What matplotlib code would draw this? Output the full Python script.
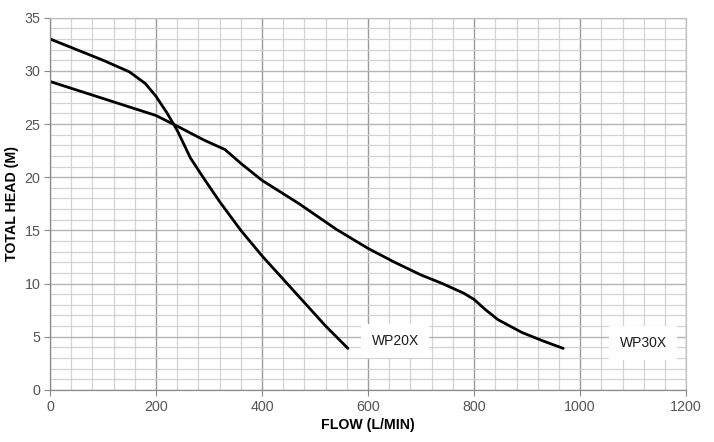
import matplotlib
matplotlib.use("Agg")
import matplotlib.pyplot as plt
from matplotlib.ticker import MultipleLocator

wp20x_flow = [0, 50, 100, 150, 180, 200, 220, 240, 265, 290, 320, 360, 400, 440, 480, 520, 562]
wp20x_head = [33.0, 32.0, 31.0, 29.9, 28.8, 27.6, 26.1, 24.4, 21.8, 19.9, 17.7, 15.0, 12.6, 10.4, 8.2, 6.0, 3.9]

wp30x_flow = [0, 100, 200, 240, 290, 330, 360, 400, 470, 540, 600, 650, 700, 740, 780, 800, 820, 845, 890, 930, 968]
wp30x_head = [29.0, 27.4, 25.8, 24.8, 23.5, 22.6, 21.3, 19.7, 17.5, 15.1, 13.3, 12.0, 10.8, 10.0, 9.1, 8.5, 7.6, 6.6, 5.4, 4.6, 3.9]

labels = ["WP20X", "WP30X"]
label_pos = [(651, 4.6), (1119, 4.4)]

plt.rcParams['font.family'] = ['Liberation Sans', 'DejaVu Sans']
fig = plt.figure(figsize=(7.14, 4.42), dpi=100)
ax = fig.add_axes([0.070, 0.118, 0.891, 0.842])

ax.set_xlim(0, 1200)
ax.set_ylim(0, 35)
ax.xaxis.set_major_locator(MultipleLocator(200))
ax.xaxis.set_minor_locator(MultipleLocator(40))
ax.yaxis.set_major_locator(MultipleLocator(5))
ax.yaxis.set_minor_locator(MultipleLocator(1))
ax.xaxis.grid(which='major', color='#9a9a9a', linewidth=1.0)
ax.yaxis.grid(which='major', color='#b4b4b4', linewidth=1.0)
ax.grid(which='minor', color='#d2d2d2', linewidth=0.9)
ax.set_axisbelow(True)
for s in ax.spines.values():
    s.set_color('#c0c0c0')
    s.set_linewidth(0.9)
ax.spines['left'].set_color('#8a8a8a')
ax.spines['bottom'].set_color('#8a8a8a')
ax.tick_params(which='major', length=4, color='#8a8a8a', labelsize=10.3, labelcolor='#555555', pad=3)
ax.tick_params(which='minor', length=0)

ax.plot(wp20x_flow, wp20x_head, color='black', linewidth=2.0, solid_capstyle='round', solid_joinstyle='round')
ax.plot(wp30x_flow, wp30x_head, color='black', linewidth=2.0, solid_capstyle='round', solid_joinstyle='round')

for lab, (x, y) in zip(labels, label_pos):
    ax.text(x, y, lab, ha='center', va='center', fontsize=10, color='#1a1a1a',
            bbox=dict(boxstyle='square,pad=0.75', facecolor='white', edgecolor='none'))

ax.set_xlabel('FLOW (L/MIN)', fontsize=10.2, fontweight='bold', labelpad=3)
ax.set_ylabel('TOTAL HEAD (M)', fontsize=10.2, fontweight='bold', labelpad=4)

fig.savefig('out.png', dpi=100, facecolor='white')
